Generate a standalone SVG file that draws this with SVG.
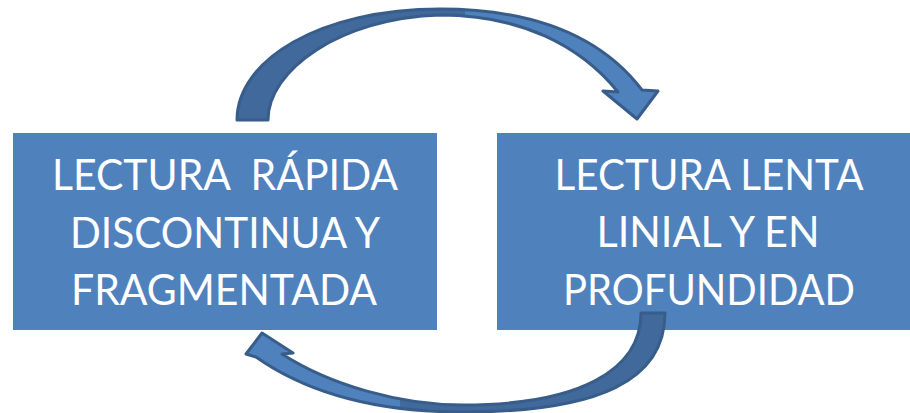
<svg xmlns="http://www.w3.org/2000/svg" xmlns:xlink="http://www.w3.org/1999/xlink" width="910" height="413" viewBox="0 0 910 413">
<style>
.box{fill:#4F81BD;}
.lbl{font-family:Lato,"Open Sans","Liberation Sans",sans-serif;font-size:42px;fill:#FFFFFF;text-anchor:middle;white-space:pre;}
.light{fill:#4F81BD;}
.dark{fill:#41699B;}
.edge{fill:none;stroke:#385D8A;stroke-width:3;stroke-linejoin:round;}
</style>
<defs>
<path id="topArrowShape" d="M237,120 C237,60 320,9 440,9 C530,9 600,35 642,90 L658,91 L637,119 L603,91 L618,92 C580,45 520,15 440,15 C340,18 268,70 268,120 Z"/>
<path id="bottomArrowShape" d="M665,313 C665,380 600,412 463,412 C380,412 310,395 256,357 L246,354 L262,333 L293,353 L282,354 C330,385 400,405 463,405 C580,405 641,370 641,313 Z"/>
<clipPath id="clipTopLeft"><rect x="200" y="0" width="265" height="130"/></clipPath>
<clipPath id="clipBottomRight"><rect x="400" y="300" width="300" height="113"/></clipPath>
</defs>
<rect width="910" height="413" fill="#FFFFFF"/>
<g id="node-rapida">
<rect class="box" x="13" y="133" width="424" height="197"/>
<text class="lbl" x="225" y="190" textLength="346" lengthAdjust="spacingAndGlyphs">LECTURA  RÁPIDA</text>
<text class="lbl" x="225" y="248" textLength="310" lengthAdjust="spacingAndGlyphs">DISCONTINUA Y</text>
<text class="lbl" x="224" y="305" textLength="306" lengthAdjust="spacingAndGlyphs">FRAGMENTADA</text>
</g>
<g id="node-lenta">
<rect class="box" x="497" y="133" width="422" height="197"/>
<text class="lbl" x="709" y="190" textLength="309" lengthAdjust="spacingAndGlyphs">LECTURA LENTA</text>
<text class="lbl" x="708" y="247" textLength="223" lengthAdjust="spacingAndGlyphs">LINIAL Y EN</text>
<text class="lbl" x="709" y="305" textLength="292" lengthAdjust="spacingAndGlyphs">PROFUNDIDAD</text>
</g>
<g id="connectors">
<g id="arrow-top">
<use xlink:href="#topArrowShape" class="light"/>
<use xlink:href="#topArrowShape" class="dark" clip-path="url(#clipTopLeft)"/>
<use xlink:href="#topArrowShape" class="edge"/>
</g>
<g id="arrow-bottom">
<use xlink:href="#bottomArrowShape" class="light"/>
<use xlink:href="#bottomArrowShape" class="dark" clip-path="url(#clipBottomRight)"/>
<use xlink:href="#bottomArrowShape" class="edge"/>
</g>
</g>
</svg>
